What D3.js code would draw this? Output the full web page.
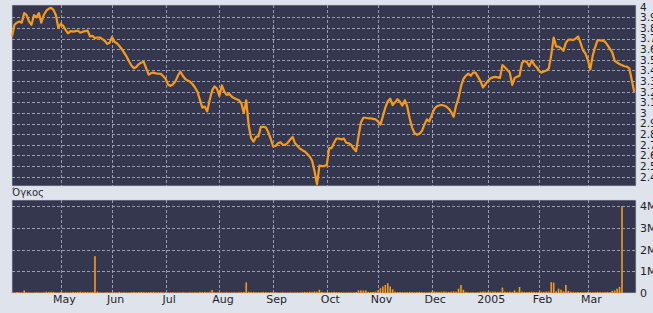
<!DOCTYPE html>
<html>
<head>
<meta charset="utf-8">
<script src="https://cdn.jsdelivr.net/npm/d3@7"></script>
<style>
  body { margin: 0; background: #dfe3eb; }
  svg { display: block; }
  text { font-family: "DejaVu Sans", Verdana, sans-serif; }
</style>
</head>
<body>
<svg id="chart" width="653" height="313"></svg>
<script>
// trading days: weekdays from 5 Apr 2004 to 28 Mar 2005
const startDay = new Date(2004, 3, 5)
const endDay = new Date(2005, 2, 29)

// closing price, one per trading day
const closes = [
  3.72, 3.83, 3.85, 3.86, 3.85, 3.94, 3.92, 3.86, 3.83, 3.92,
  3.90, 3.94, 3.85, 3.92, 3.96, 3.98, 3.99, 3.97, 3.92, 3.80,
  3.84, 3.82, 3.78, 3.75, 3.77, 3.765, 3.77, 3.775, 3.755, 3.765,
  3.77, 3.775, 3.72, 3.725, 3.705, 3.71, 3.71, 3.695, 3.68, 3.65,
  3.66, 3.715, 3.67, 3.655, 3.63, 3.60, 3.565, 3.53, 3.485, 3.445,
  3.42, 3.435, 3.46, 3.475, 3.48, 3.42, 3.36, 3.375, 3.38, 3.373,
  3.37, 3.368, 3.345, 3.32, 3.265, 3.255, 3.27, 3.30, 3.35, 3.39,
  3.35, 3.32, 3.305, 3.293, 3.27, 3.24, 3.20, 3.125, 3.05, 3.06,
  3.015, 3.12, 3.21, 3.25, 3.23, 3.16, 3.26, 3.20, 3.17, 3.18,
  3.155, 3.14, 3.13, 3.12, 3.09, 3.00, 3.12, 2.88, 2.765, 2.73,
  2.775, 2.78, 2.87, 2.87, 2.865, 2.82, 2.76, 2.685, 2.69, 2.715,
  2.725, 2.70, 2.70, 2.72, 2.75, 2.775, 2.715, 2.69, 2.665, 2.65,
  2.637, 2.615, 2.59, 2.55, 2.45, 2.33, 2.505, 2.50, 2.50, 2.51,
  2.67, 2.67, 2.72, 2.76, 2.76, 2.75, 2.76, 2.72, 2.715, 2.70,
  2.665, 2.64, 2.78, 2.91, 2.955, 2.955, 2.95, 2.95, 2.945, 2.94,
  2.92, 2.89, 2.97, 3.05, 3.11, 3.135, 3.075, 3.10, 3.13, 3.105,
  3.07, 3.12, 3.06, 2.945, 2.86, 2.81, 2.795, 2.805, 2.83, 2.89,
  2.94, 2.92, 2.98, 3.035, 3.06, 3.07, 3.075, 3.07, 3.06, 3.04,
  3.01, 2.965, 3.07, 3.14, 3.25, 3.32, 3.35, 3.37, 3.35, 3.38,
  3.38, 3.34, 3.30, 3.24, 3.27, 3.30, 3.325, 3.335, 3.34, 3.335,
  3.33, 3.45, 3.43, 3.405, 3.38, 3.265, 3.33, 3.34, 3.35, 3.47,
  3.49, 3.48, 3.44, 3.495, 3.455, 3.43, 3.40, 3.38, 3.39, 3.40,
  3.42, 3.545, 3.71, 3.625, 3.625, 3.61, 3.585, 3.66, 3.69, 3.69,
  3.687, 3.70, 3.72, 3.66, 3.59, 3.56, 3.50, 3.41, 3.54, 3.62,
  3.685, 3.683, 3.68, 3.672, 3.64, 3.605, 3.57, 3.49, 3.475, 3.46,
  3.45, 3.44, 3.436, 3.42, 3.31, 3.20
]

// volume in millions, one per trading day
const volumes = [
  0.03, 0.02, 0.04, 0.03, 0.02, 0.12, 0.03, 0.02, 0.01, 0.02,
  0.03, 0.02, 0.02, 0.03, 0.06, 0.05, 0.06, 0.05, 0.02, 0.02,
  0.03, 0.02, 0.03, 0.02, 0.03, 0.05, 0.04, 0.05, 0.06, 0.04,
  0.05, 0.05, 0.04, 0.05, 1.7, 0.06, 0.03, 0.02, 0.02, 0.03,
  0.02, 0.02, 0.03, 0.02, 0.05, 0.02, 0.03, 0.02, 0.02, 0.03,
  0.04, 0.03, 0.04, 0.05, 0.04, 0.03, 0.04, 0.04, 0.05, 0.03,
  0.04, 0.04, 0.02, 0.03, 0.02, 0.02, 0.03, 0.02, 0.02, 0.02,
  0.03, 0.02, 0.02, 0.03, 0.02, 0.03, 0.02, 0.05, 0.04, 0.05,
  0.03, 0.06, 0.14, 0.03, 0.02, 0.03, 0.02, 0.02, 0.03, 0.02,
  0.02, 0.03, 0.02, 0.03, 0.04, 0.05, 0.49, 0.06, 0.04, 0.05,
  0.03, 0.04, 0.03, 0.05, 0.04, 0.03, 0.04, 0.03, 0.04, 0.02,
  0.02, 0.03, 0.02, 0.02, 0.03, 0.02, 0.02, 0.03, 0.02, 0.04,
  0.05, 0.04, 0.06, 0.05, 0.07, 0.06, 0.15, 0.05, 0.03, 0.02,
  0.03, 0.04, 0.05, 0.04, 0.04, 0.03, 0.02, 0.02, 0.03, 0.02,
  0.03, 0.04, 0.12, 0.12, 0.11, 0.12, 0.05, 0.04, 0.05, 0.06,
  0.12, 0.22, 0.30, 0.37, 0.45, 0.30, 0.17, 0.06, 0.04, 0.05,
  0.04, 0.03, 0.04, 0.05, 0.04, 0.03, 0.04, 0.05, 0.04, 0.03,
  0.02, 0.03, 0.06, 0.07, 0.06, 0.05, 0.06, 0.07, 0.06, 0.05,
  0.06, 0.07, 0.06, 0.20, 0.37, 0.15, 0.05, 0.03, 0.02, 0.03,
  0.02, 0.03, 0.06, 0.07, 0.06, 0.05, 0.06, 0.07, 0.06, 0.05,
  0.06, 0.25, 0.06, 0.05, 0.06, 0.05, 0.12, 0.05, 0.28, 0.06,
  0.05, 0.04, 0.05, 0.06, 0.05, 0.04, 0.05, 0.06, 0.05, 0.07,
  0.06, 0.50, 0.48, 0.08, 0.20, 0.15, 0.08, 0.37, 0.10, 0.06,
  0.05, 0.04, 0.05, 0.04, 0.03, 0.04, 0.05, 0.04, 0.03, 0.04,
  0.05, 0.04, 0.03, 0.04, 0.05, 0.04, 0.10, 0.12, 0.20, 0.28,
  4.0, 0, 0, 0, 0, 0
]

const priceTicks = d3.range(24, 41).map(d => d / 10)
const volumeTicks = [0, 1, 2, 3, 4]

/* layout */
const left = 12, right = 634.2
const top1 = 5, bottom1 = 186
const top2 = 200, bottom2 = 293
const panelRight = 636

const days = d3.timeDay.range(startDay, endDay).filter(d => d.getDay() != 0 && d.getDay() != 6)
const prices = closes.map((v, i) => ({ i: i, day: days[i], close: v, vol: volumes[i] }))

// first trading day of every month after April
const monthStarts = []
days.forEach((d, i) => {
  if (i > 0 && d.getMonth() != days[i - 1].getMonth()) monthStarts.push(i)
})

const svg = d3.select("#chart")

/* Making Scales */
const xScale = d3.scaleLinear()
  .domain([0, days.length - 1])
  .range([left, right])

const yScale = d3.scaleLinear()
  .domain([2.313, 4.016])
  .range([bottom1, top1])

const vScale = d3.scaleLinear()
  .domain([0, 4.29])
  .range([bottom2, top2])

const panelFill = "#35374f"
const gridColor = "#9a9db2"
const orange = "#f79a1c"

function panel(y0, y1, scale, ticks) {
  svg.append("rect")
    .attr("x", left).attr("y", y0)
    .attr("width", panelRight - left).attr("height", y1 - y0)
    .attr("fill", panelFill)
    .attr("stroke", "#c9ccd8")
    .attr("stroke-width", 0.6)

  // horizontal grid
  svg.append("g").selectAll("line")
    .data(ticks.filter(t => scale(t) > y0 + 2 && scale(t) < y1 - 2))
    .enter().append("line")
    .attr("x1", left).attr("x2", panelRight)
    .attr("y1", d => Math.round(scale(d)) + 0.5)
    .attr("y2", d => Math.round(scale(d)) + 0.5)
    .attr("stroke", gridColor)
    .attr("stroke-dasharray", "3,2")

  // month grid
  svg.append("g").selectAll("line")
    .data(monthStarts)
    .enter().append("line")
    .attr("x1", d => Math.round(xScale(d)) + 0.5)
    .attr("x2", d => Math.round(xScale(d)) + 0.5)
    .attr("y1", y0).attr("y2", y1)
    .attr("stroke", gridColor)
    .attr("stroke-dasharray", "3,2")
}

panel(top1, bottom1, yScale, priceTicks)
panel(top2, bottom2, vScale, volumeTicks)

/* price line */
const line = d3.line()
  .x(d => xScale(d.i))
  .y(d => yScale(d.close))

svg.append("path")
  .datum(prices)
  .attr("d", line)
  .attr("fill", "none")
  .attr("stroke", orange)
  .attr("stroke-width", 2.2)
  .attr("stroke-linejoin", "round")

/* volume bars */
svg.append("g").selectAll("rect")
  .data(prices.filter(d => d.vol > 0))
  .enter().append("rect")
  .attr("x", d => xScale(d.i) - 0.8)
  .attr("width", 1.6)
  .attr("y", d => vScale(d.vol))
  .attr("height", d => bottom2 - vScale(d.vol))
  .attr("fill", orange)

/* axes */
const yAxis = d3.axisRight(yScale)
  .tickValues(priceTicks)
  .tickSize(0)
  .tickPadding(4)
  .tickFormat(d => String(+d.toFixed(1)))

svg.append("g")
  .attr("class", "y-axis price")
  .attr("transform", `translate(${panelRight},0)`)
  .call(yAxis)

const vAxis = d3.axisRight(vScale)
  .tickValues(volumeTicks)
  .tickSize(0)
  .tickPadding(4)
  .tickFormat(d => d == 0 ? "0" : d + "M")

svg.append("g")
  .attr("class", "y-axis")
  .attr("transform", `translate(${panelRight},0)`)
  .call(vAxis)

const xAxis = d3.axisBottom(xScale)
  .tickValues(monthStarts)
  .tickSize(0)
  .tickPadding(2)
  .tickFormat(i => days[i].getMonth() == 0 ? d3.timeFormat("%Y")(days[i]) : d3.timeFormat("%b")(days[i]))

svg.append("g")
  .attr("class", "x-axis")
  .attr("transform", `translate(3,${bottom2})`)
  .call(xAxis)

svg.selectAll(".domain").remove()
svg.selectAll(".y-axis text, .x-axis text")
  .attr("font-size", 11)
  .attr("fill", "#1e1e28")
// price labels sit only ~10.6px apart
svg.selectAll(".price text")
  .attr("font-size", 10.5)

svg.append("text")
  .attr("x", left)
  .attr("y", 196)
  .attr("font-size", 10)
  .attr("fill", "#2a2a35")
  .text("Όγκος")
</script>
</body>
</html>
